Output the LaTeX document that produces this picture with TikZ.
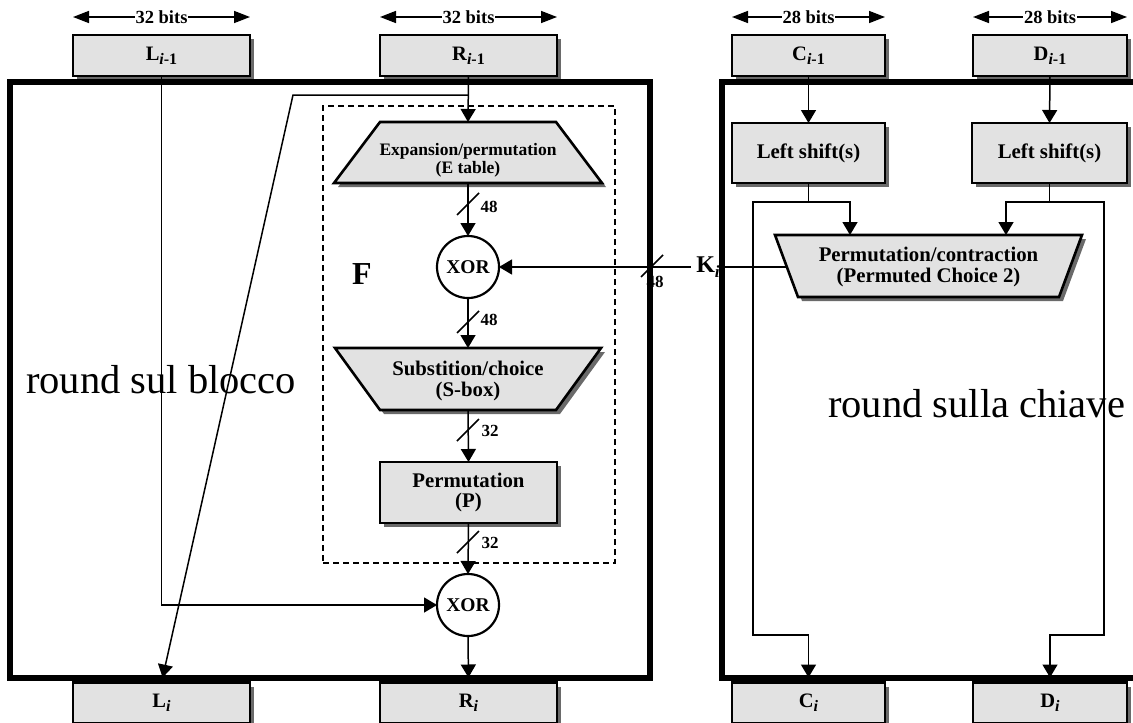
\documentclass[tikz,border=0pt]{standalone}
\usepackage{fontspec}
\setmainfont{Liberation Serif}
\usetikzlibrary{arrows.meta,shadows}
\definecolor{boxfill}{HTML}{E2E2E2}
\definecolor{shadowgray}{HTML}{6A6A6A}
\newcommand{\fs}[1]{\fontsize{#1}{#1}\selectfont}
\newcommand{\subl}[1]{\raisebox{-4pt}{\fontsize{16}{16}\selectfont #1}}

\begin{document}
\begin{tikzpicture}[x=1pt,y=-1pt,
  shadowed/.style={drop shadow={shadow xshift=4pt,shadow yshift=-4pt,fill=shadowgray,opacity=1}},
  graybox/.style={draw,line width=2.6pt,fill=boxfill,shadowed,rectangle,inner sep=0pt,outer sep=0pt,font=\bfseries\fs{20.8}},
  regbox/.style={graybox,minimum width=177pt,minimum height=41pt,font=\bfseries\fs{20.5}},
  trap/.style={draw,line width=2.6pt,fill=boxfill,shadowed,line join=miter},
  xorc/.style={draw,circle,line width=2.2pt,fill=white,minimum size=62pt,inner sep=0pt,outer sep=0pt,font=\bfseries\fs{19.5}},
  wire/.style={line width=1.5pt},
  arr/.style={-{Triangle[length=13pt,width=15pt]}},
  bitsarrow/.style={line width=1.6pt,{Triangle[length=16pt,width=12pt]}-{Triangle[length=16pt,width=12pt]}},
  bitslabel/.style={fill=white,inner xsep=1pt,inner ysep=2pt,font=\bfseries\fs{18.5}},
  buslabel/.style={inner sep=0pt,font=\bfseries\fs{17}},
  roundbox/.style={draw,line width=5.5pt,rectangle,inner sep=0pt,outer sep=0pt},
  roundtext/.style={anchor=base west,inner sep=0pt,font=\fs{40.5}}
]
\useasboundingbox (0,0) rectangle (1133,723);

% ---- input and output registers ----
\node[regbox] (Lin) at (161.5,55.5) {L\subl{\textit{i}-1}};
\node[regbox] (Rin) at (468.5,55.5) {R\subl{\textit{i}-1}};
\node[regbox,minimum width=153pt] (Cin) at (808.5,55.5) {C\subl{\textit{i}-1}};
\node[regbox,minimum width=154pt] (Din) at (1050,55.5) {D\subl{\textit{i}-1}};
\node[regbox] (Lout) at (161.5,703) {L\subl{\textit{i}}};
\node[regbox] (Rout) at (468.5,703) {R\subl{\textit{i}}};
\node[regbox,minimum width=153pt] (Cout) at (808.5,703) {C\subl{\textit{i}}};
\node[regbox,minimum width=154pt] (Dout) at (1050,703) {D\subl{\textit{i}}};

% ---- register widths ----
\draw[bitsarrow] ([yshift=18pt]Lin.north west) -- node[bitslabel] (wL) {32 bits} ([yshift=18pt]Lin.north east);
\draw[bitsarrow] ([yshift=18pt]Rin.north west) -- node[bitslabel] (wR) {32 bits} ([yshift=18pt]Rin.north east);
\draw[bitsarrow] ([yshift=18pt]Cin.north west) -- node[bitslabel] (wC) {28 bits} ([yshift=18pt]Cin.north east);
\draw[bitsarrow] ([yshift=18pt]Din.north west) -- node[bitslabel] (wD) {28 bits} ([yshift=18pt]Din.north east);

% ---- function F ----
\node[draw,dash pattern=on 6pt off 4pt,line width=1.3pt,minimum width=292pt,minimum height=457pt,inner sep=0pt] (Fbox) at (469,334.5) {};
\node[font=\bfseries\fs{32},inner sep=0pt] (Flab) at (362,274) {F};

\filldraw[trap] (380,122) -- (556,122) -- (602,183) -- (334,183) -- cycle;
\node[align=center,font=\bfseries\fs{17.5},inner sep=0pt] (Etab) at (468,160.5) {\baselineskip=18pt Expansion/permutation\\(E table)};
\coordinate (Etop) at (468,122);
\coordinate (Ebot) at (468,183);

\node[xorc] (x1) at (468,267) {XOR};

\filldraw[trap] (335,348) -- (601,348) -- (556,410) -- (380,410) -- cycle;
\node[align=center,font=\bfseries\fs{20.8},inner sep=0pt] (Sbox) at (468,381) {Substition/choice\\(S-box)};
\coordinate (Stop) at (468,348);
\coordinate (Sbot) at (468,410);

\node[graybox,minimum width=177pt,minimum height=61pt,align=center] (P) at (468.5,492.5) {Permutation\\(P)};

\node[xorc] (x2) at (468,605) {XOR};

% ---- key schedule ----
\node[graybox,minimum width=153pt,minimum height=60pt] (LS1) at (808.5,153) {Left shift(s)};
\node[graybox,minimum width=155pt,minimum height=60pt] (LS2) at (1049.5,153) {Left shift(s)};

\filldraw[trap] (775,235) -- (1082,235) -- (1059,297) -- (798,297) -- cycle;
\node[align=center,font=\bfseries\fs{20.8},inner sep=0pt] (PC2) at (928.5,267) {Permutation/contraction\\(Permuted Choice 2)};
\coordinate (pcin1) at (850,235);
\coordinate (pcin2) at (1006,235);
\coordinate (kfrom) at (787,267);

% ---- data path of the block round ----
\coordinate (rb) at (468.5,95);
\coordinate (rbl) at (293,95);
\draw[wire,arr] (Rin.south) -- (Etop);
\draw[wire,arr,shorten >=5pt] (rb) -- (rbl) -- (Lout.north);
\draw[wire,arr] (Ebot) -- (x1.north);
\draw[wire,arr] (x1.south) -- (Stop);
\draw[wire,arr] (Sbot) -- (P.north);
\draw[wire,arr] (P.south) -- (x2.north);
\draw[wire,arr,shorten >=5pt] (x2.south) -- (Rout.north);
\draw[wire,arr] (Lin.south) |- (x2.west);

% ---- data path of the key round ----
\coordinate (cs) at (808.5,202);
\coordinate (ds) at (1049.5,202);
\coordinate (cl) at (753,635);
\coordinate (dr) at (1104,635);
\draw[wire,arr] (Cin.south) -- (LS1.north);
\draw[wire,arr] (Din.south) -- (LS2.north);
\draw[wire] (LS1.south) -- (cs);
\draw[wire] (LS2.south) -- (ds);
\draw[wire,arr] (cs) -| (pcin1);
\draw[wire,arr] (ds) -| (pcin2);
\draw[wire,arr,shorten >=5pt] (cs) -| (cl) -| (Cout.north);
\draw[wire,arr,shorten >=5pt] (ds) -| (dr) -| (Dout.north);

% ---- round key ----
\draw[wire,arr] (kfrom) -- (x1.east);
\node[fill=white,inner xsep=5pt,inner ysep=2pt,font=\bfseries\fs{24}] (Klab) at (708,267) {K\raisebox{-5pt}{\fs{17}\textit{i}}};

% ---- bus widths ----
\coordinate (m1) at (468,204);
\coordinate (m2) at (468,322);
\coordinate (m3) at (468,430);
\coordinate (m4) at (468,542);
\coordinate (m5) at (652,266);
\foreach \m in {m1,m2,m3,m4,m5}
  \draw[wire] ([shift={(-11,11)}]\m) -- ([shift={(11,-11)}]\m);
\node[buslabel] (b1) at ([shift={(21,3)}]m1) {48};
\node[buslabel] (b2) at ([shift={(21,-2)}]m2) {48};
\node[buslabel] (b3) at ([shift={(22,1)}]m3) {32};
\node[buslabel] (b4) at ([shift={(22,1)}]m4) {32};
\node[buslabel] (b5) at ([shift={(3,16)}]m5) {48};

% ---- round frames ----
\node[roundbox,minimum width=640pt,minimum height=596pt] (blockround) at (330,380) {};
\node[roundbox,minimum width=418pt,minimum height=596pt] (keyround) at (931,380) {};

\node[roundtext] (tblock) at (26,393) {round sul blocco};
\node[roundtext] (tkey) at (828,417) {round sulla chiave};
\end{tikzpicture}
\end{document}
